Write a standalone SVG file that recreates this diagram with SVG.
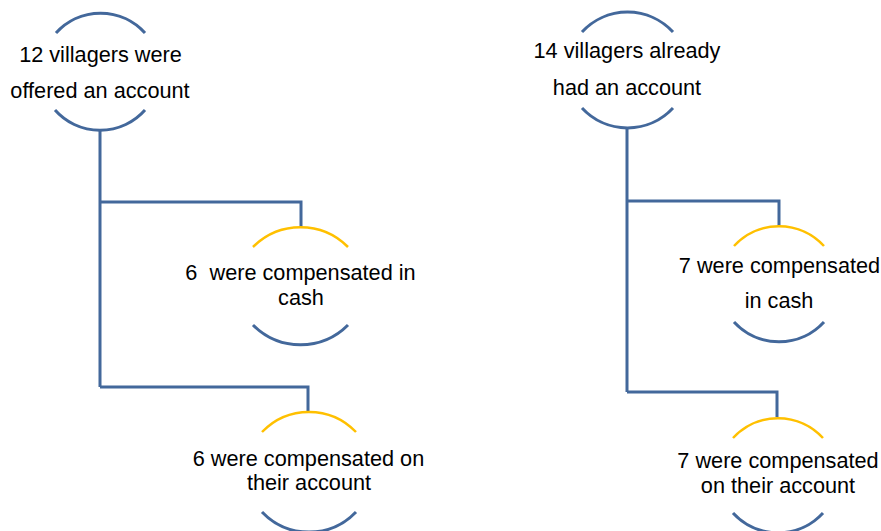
<svg xmlns="http://www.w3.org/2000/svg" width="881" height="531" viewBox="0 0 881 531">
<style>
.b{fill:none;stroke:#43689B;stroke-width:3}
.y{fill:none;stroke:#FFC000;stroke-width:2.5}
.c{fill:none;stroke:#43689B;stroke-width:3}
text{font-family:"Liberation Sans",Arial,sans-serif;font-size:21.7px;fill:#000;text-anchor:middle;white-space:pre}
</style>
<rect width="881" height="531" fill="#fff"/>
<g id="connectors">
<path class="c" d="M100,131 V387 M100,202 H301 V227 M100,387 H308 V412"/>
<path class="c" d="M627,128 V392 M627,201 H779 V226 M627,392 H777 V417"/>
</g>
<g id="n1">
<path class="b" d="M56,33 A60,60 0 0 1 145,33"/>
<path class="b" d="M55,110 A60,60 0 0 0 145,110"/>
<text x="100.5" y="62">12 villagers were</text>
<text x="100" y="98">offered an account</text>
</g>
<g id="n2">
<path class="y" d="M253,247 A67,67 0 0 1 348,247"/>
<path class="b" d="M253,325 A67,67 0 0 0 348,325"/>
<text x="300.5" y="280">6  were compensated in</text>
<text x="301" y="305">cash</text>
</g>
<g id="n3">
<path class="y" d="M262,432 A65,65 0 0 1 356,432"/>
<path class="b" d="M262,512 A65,65 0 0 0 356,512"/>
<text x="308.5" y="466">6 were compensated on</text>
<text x="309" y="490">their account</text>
</g>
<g id="n4">
<path class="b" d="M582,32 A62,62 0 0 1 673,32"/>
<path class="b" d="M582,108 A62,62 0 0 0 673,108"/>
<text x="627" y="58">14 villagers already</text>
<text x="627" y="95">had an account</text>
</g>
<g id="n5">
<path class="y" d="M734,246 A61,61 0 0 1 824,246"/>
<path class="b" d="M734,322 A61,61 0 0 0 824,322"/>
<text x="779.5" y="273">7 were compensated</text>
<text x="779" y="308">in cash</text>
</g>
<g id="n6">
<path class="y" d="M733,438 A61,61 0 0 1 823,438"/>
<path class="b" d="M733,513 A61,61 0 0 0 823,513"/>
<text x="778" y="468">7 were compensated</text>
<text x="778" y="493">on their account</text>
</g>
</svg>
